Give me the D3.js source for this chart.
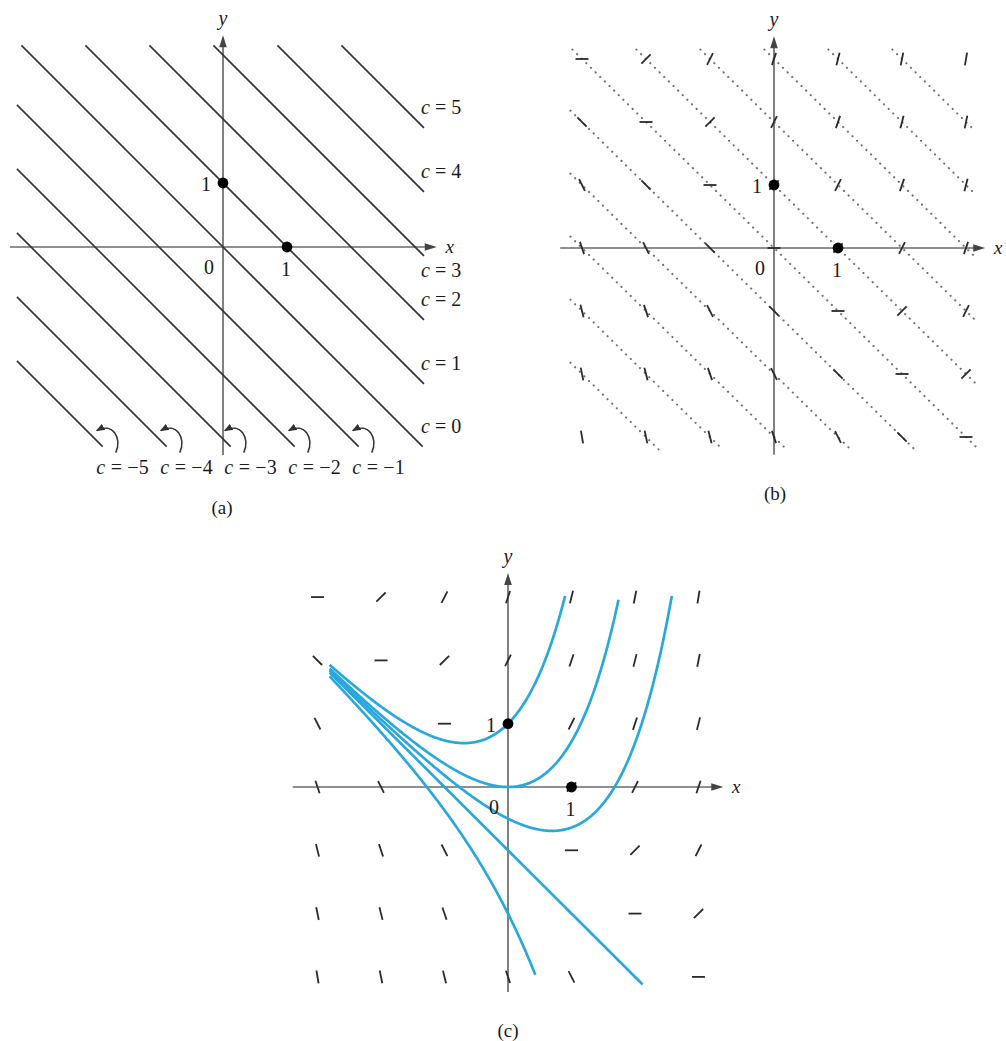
<!DOCTYPE html>
<html><head><meta charset="utf-8">
<script src="https://cdn.jsdelivr.net/npm/d3@7"></script>
<style>
body{margin:0;background:#fff}
text{font-family:"Liberation Serif","Times New Roman",serif;fill:#1a1a1a}
</style>
</head><body>
<svg id="chart" width="1006" height="1041"></svg>
<script>
// ---------- data ----------
const isoclineC = [-5,-4,-3,-2,-1,0,1,2,3,4,5];      // x + y = c
const rightLabelC = [0,1,2,3,4,5];
const bottomLabelC = [-5,-4,-3,-2,-1];
const gridX = [-3,-2,-1,0,1,2,3];
const gridY = [3,2,1,0,-1,-2,-3];
const curveC = [2,1,0.5,0,-1];                       // y = C e^x - x - 1
const curveXStart = [-2.81,-2.81,-2.81,-2.81,-2.81];
const curveXEnd = [0.9,1.74,2.58,2.12,0.43];
const markedPoints = [[0,1],[1,0]];
const captions = ["(a)","(b)","(c)"];

const svg = d3.select("#chart");

function panel(cfg){
  const g = svg.append("g");
  const x = d3.scaleLinear().domain([0,1]).range([cfg.ox, cfg.ox+cfg.ux]);
  const y = d3.scaleLinear().domain([0,1]).range([cfg.oy, cfg.oy-cfg.uy]);
  return {g,x,y};
}

function drawAxes(p, xr, yr, axisColor){
  const g = p.g, x=p.x, y=p.y;
  const x0 = x(xr[0]), x1 = x(xr[1]), y0 = y(yr[0]), y1 = y(yr[1]);
  g.append("line").attr("x1",x0).attr("x2",x1-6).attr("y1",y(0)).attr("y2",y(0))
    .attr("stroke",axisColor).attr("stroke-width",1.7);
  g.append("line").attr("x1",x(0)).attr("x2",x(0)).attr("y1",y0).attr("y2",y1+6)
    .attr("stroke",axisColor).attr("stroke-width",1.7);
  g.append("path").attr("d",`M${x1},${y(0)} L${x1-12},${y(0)-3.8} L${x1-12},${y(0)+3.8}Z`).attr("fill","#444");
  g.append("path").attr("d",`M${x(0)},${y1} L${x(0)-3.8},${y1+12} L${x(0)+3.8},${y1+12}Z`).attr("fill","#444");
  g.append("text").attr("x",x1+13).attr("y",y(0)-1).attr("text-anchor","middle").attr("dominant-baseline","central")
    .attr("font-size",19).attr("font-style","italic").text("x");
  g.append("text").attr("x",x(0)).attr("y",y1-17).attr("text-anchor","middle").attr("dominant-baseline","central")
    .attr("font-size",20).attr("font-style","italic").text("y");
}

function drawTicks(p){
  const g=p.g,x=p.x,y=p.y;
  g.append("text").attr("x",x(0)-14).attr("y",y(0)+20).attr("text-anchor","middle").attr("dominant-baseline","central").attr("font-size",20).text("0");
  g.append("text").attr("x",x(1)-1).attr("y",y(0)+22).attr("text-anchor","middle").attr("dominant-baseline","central").attr("font-size",20).text("1");
  g.append("text").attr("x",x(0)-17).attr("y",y(1)+1).attr("text-anchor","middle").attr("dominant-baseline","central").attr("font-size",20).text("1");
}

function drawDots(p){
  p.g.selectAll("circle.pt").data(markedPoints).join("circle").attr("class","pt")
    .attr("cx",d=>p.x(d[0])).attr("cy",d=>p.y(d[1])).attr("r",5.4).attr("fill","#000");
}

function clipIso(c, box){
  const xa = Math.max(box.x0, c - box.y1), xb = Math.min(box.x1, c - box.y0);
  return [[xa, c-xa],[xb, c-xb]];
}

function drawSlopes(p, len){
  const pts = [];
  gridY.forEach(gy=>gridX.forEach(gx=>pts.push([gx,gy])));
  p.g.selectAll("line.sl").data(pts).join("line").attr("class","sl")
    .each(function(d){
      const m = d[0]+d[1];
      const cx = p.x(d[0]), cy = p.y(d[1]);
      let dx = p.x(1)-p.x(0), dy = p.y(m)-p.y(0);
      const n = Math.hypot(dx,dy); dx*=len/2/n; dy*=len/2/n;
      d3.select(this).attr("x1",cx-dx).attr("y1",cy-dy).attr("x2",cx+dx).attr("y2",cy+dy);
    })
    .attr("stroke","#2b2b2b").attr("stroke-width",1.8);
}

// ---------- panel (a) ----------
{
  const p = panel({ox:223, oy:247, ux:64, uy:64});
  const box = {x0:-3.22, x1:3.14, y0:-3.12, y1:3.15};
  drawAxes(p, [-3.33,3.34], [-3.25,3.31], "#6a6a6a");
  p.g.selectAll("line.iso").data(isoclineC).join("line").attr("class","iso")
    .each(function(c){
      const s = clipIso(c, box);
      d3.select(this).attr("x1",p.x(s[0][0])).attr("y1",p.y(s[0][1])).attr("x2",p.x(s[1][0])).attr("y2",p.y(s[1][1]));
    })
    .attr("stroke","#333").attr("stroke-width",1.7);
  // right labels
  p.g.selectAll("text.rl").data(rightLabelC).join("text").attr("class","rl")
    .attr("x",421)
    .attr("y",c=> c===3 ? p.y(0)+23 : p.y(clipIso(c,box)[1][1])-21)
    .attr("dominant-baseline","central").attr("font-size",20)
    .each(function(c){
      const t=d3.select(this);
      t.append("tspan").attr("font-style","italic").text("c");
      t.append("tspan").text(" = "+c);
    });
  // bottom labels with curl arrows
  p.g.append("defs").append("marker").attr("id","ah").attr("viewBox","0 0 10 8").attr("refX",9).attr("refY",4)
    .attr("markerWidth",9).attr("markerHeight",7).attr("orient","auto").attr("markerUnits","userSpaceOnUse")
    .append("path").attr("d","M0,0 L10,4 L0,8Z").attr("fill","#333");
  bottomLabelC.forEach(c=>{
    const e = clipIso(c, box)[1];
    const ex = p.x(e[0]), ey = p.y(e[1]);
    p.g.append("path").attr("d",`M${ex+13},${ey+6} C${ex+20},${ey-8} ${ex+10},${ey-25} ${ex-6},${ey-16}`)
      .attr("fill","none").attr("stroke","#333").attr("stroke-width",1.5).attr("marker-end","url(#ah)");
    const t = p.g.append("text").attr("x",ex+20).attr("y",ey+20).attr("text-anchor","middle")
      .attr("dominant-baseline","central").attr("font-size",20).attr("letter-spacing",0.2);
    t.append("tspan").attr("font-style","italic").text("c");
    t.append("tspan").text(" = \u2212"+Math.abs(c));
  });
  drawTicks(p);
  drawDots(p);
  p.g.append("text").attr("x",222).attr("y",507).attr("text-anchor","middle").attr("dominant-baseline","central").attr("font-size",19).text(captions[0]);
}

// ---------- panel (b) ----------
{
  const p = panel({ox:774, oy:248, ux:64, uy:63});
  const box = {x0:-3.18, x1:3.15, y0:-3.2, y1:3.15};
  drawAxes(p, [-3.34,3.3], [-3.28,3.36], "#6a6a6a");
  p.g.selectAll("line.iso").data(isoclineC).join("line").attr("class","iso")
    .each(function(c){
      const s = clipIso(c, box);
      d3.select(this).attr("x1",p.x(s[0][0])).attr("y1",p.y(s[0][1])).attr("x2",p.x(s[1][0])).attr("y2",p.y(s[1][1]));
    })
    .attr("stroke","#6f6f6f").attr("stroke-width",2.1).attr("stroke-linecap","round").attr("stroke-dasharray","0.1,6.4");
  drawSlopes(p, 13);
  drawTicks(p);
  drawDots(p);
  p.g.append("text").attr("x",775).attr("y",493).attr("text-anchor","middle").attr("dominant-baseline","central").attr("font-size",19).text(captions[1]);
}

// ---------- panel (c) ----------
{
  const p = panel({ox:508, oy:787, ux:63.5, uy:63.3});
  drawAxes(p, [-3.39,3.39], [-3.24,3.38], "#6a6a6a");
  drawSlopes(p, 13);
  const line = d3.line().x(d=>p.x(d[0])).y(d=>p.y(d[1])).curve(d3.curveLinear);
  curveC.forEach((C,i)=>{
    const xs = d3.range(curveXStart[i], curveXEnd[i], 0.01).concat([curveXEnd[i]]);
    p.g.append("path").datum(xs.map(xv=>[xv, C*Math.exp(xv)-xv-1]))
      .attr("d",line).attr("fill","none").attr("stroke","#2aa8dc").attr("stroke-width",2.7);
  });
  drawTicks(p);
  drawDots(p);
  p.g.append("text").attr("x",508).attr("y",1030).attr("text-anchor","middle").attr("dominant-baseline","central").attr("font-size",19).text(captions[2]);
}
</script>
</body></html>
